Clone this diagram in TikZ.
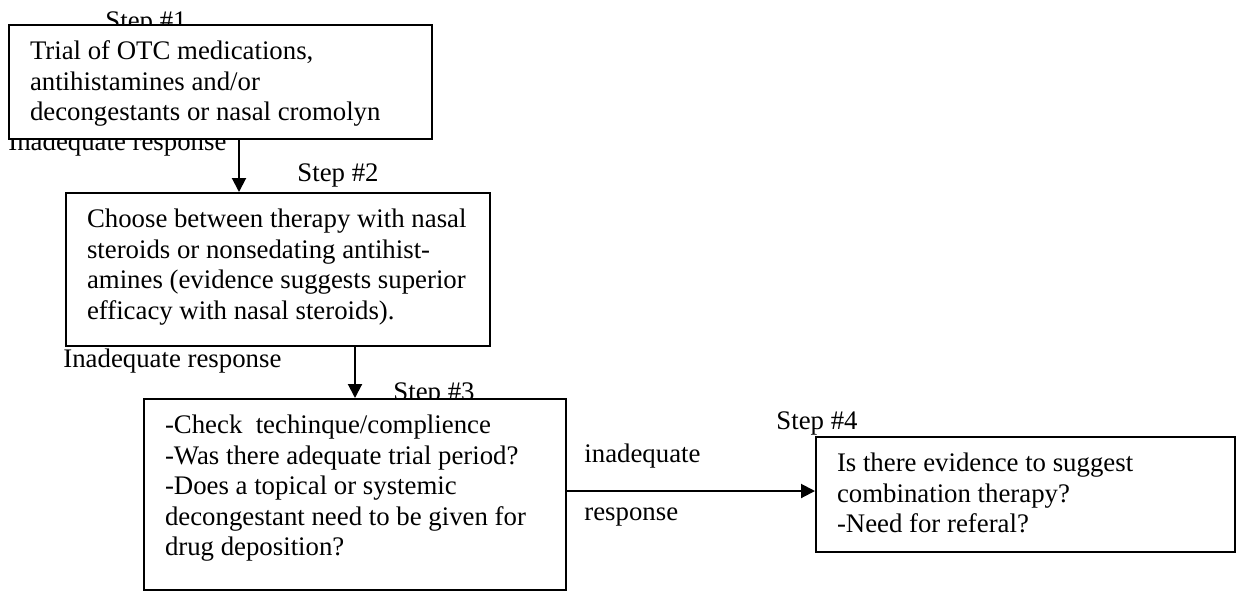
\documentclass[tikz,border=0pt]{standalone}
\usepackage{fontspec}
\setmainfont{Liberation Serif}
\usetikzlibrary{arrows.meta,positioning,calc}

\tikzset{
  stepbox/.style={draw, line width=1pt, fill=white, anchor=north west, inner sep=0pt},
  steplabel/.style={anchor=base west, inner sep=0pt},
  flow/.style={line width=1pt, -{Triangle[length=7pt,width=7pt]}}
}
% #1 width, #2 height, #3 text
\newcommand{\boxbody}[3]{\hspace*{10.5pt}\parbox[t][#2][t]{#1}{\fontsize{13.4}{15.2}\selectfont
  \raggedright\vspace*{6.8pt}\strut #3}}

\begin{document}
\begin{tikzpicture}[x=0.5pt,y=-0.5pt,font=\fontsize{13.4}{15.5}\selectfont]
  \useasboundingbox (0,0) rectangle (1236,590);
  % labels first, the boxes cover them in part
  \node[steplabel] (l1) at (105,29) {Step \#1};
  \node[steplabel] (r1) at (8,150) {Inadequate response};
  \node[steplabel] (l2) at (297,181) {Step \#2};
  \node[steplabel] (r2) at (63,367) {Inadequate response};
  \node[steplabel] (l3) at (393,400) {Step \#3};
  \node[steplabel] (l4) at (776,429) {Step \#4};
  \node[steplabel] (r3a) at (584,462) {inadequate};
  \node[steplabel] (r3b) at (584,520) {response};

  % the four steps
  \node[stepbox] (s1) at (8,24) {\boxbody{201pt}{57pt}{Trial of OTC medications,\\
    antihistamines and/or\\ decongestants or nasal cromolyn}};
  \node[stepbox] (s2) at (65,192) {\boxbody{201.5pt}{76.5pt}{Choose between therapy with nasal\\
    steroids or nonsedating antihist-\\ amines (evidence suggests superior\\
    efficacy with nasal steroids).}};
  \node[stepbox] (s3) at (143,398) {\boxbody{200.5pt}{95.5pt}{-Check\ \ techinque/complience\\
    -Was there adequate trial period?\\ -Does a topical or systemic\\
    decongestant need to be given for\\ drug deposition?}};
  \node[stepbox] (s4) at (815,436) {\boxbody{199pt}{57.5pt}{Is there evidence to suggest\\
    combination therapy?\\ -Need for referal?}};

  % connectors
  \coordinate (a1) at (239,0);
  \coordinate (a2) at (355,0);
  \coordinate (a3) at (0,491);
  \draw[flow] (s1.south -| a1) -- (s2.north -| a1);
  \draw[flow] (s2.south -| a2) -- (s3.north -| a2);
  \draw[flow] (s3.east |- a3) -- (s4.west |- a3);
\end{tikzpicture}
\end{document}
